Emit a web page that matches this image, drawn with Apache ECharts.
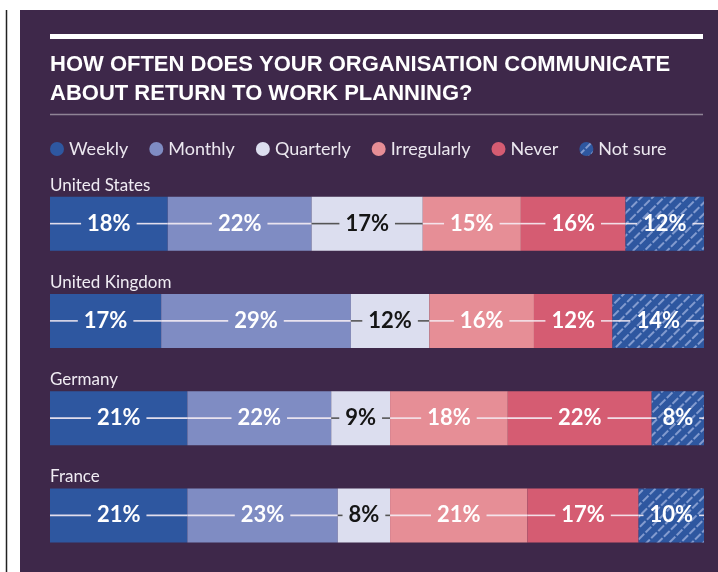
<!DOCTYPE html>
<html lang="en">
<head>
    <meta charset="UTF-8">
    <title>Return to work communication</title>
    <script type="text/javascript" src="https://cdn.jsdelivr.net/npm/echarts@6/dist/echarts.min.js"></script>
    <style>
        html, body { margin: 0; padding: 0; background: #fff; }
        #container { width: 718px; height: 572px; }
    </style>
</head>
<body>
<div id="container"></div>
<script>
    // data (percent of respondents)
    var countries = ['United States', 'United Kingdom', 'Germany', 'France'];
    var answers = ['Weekly', 'Monthly', 'Quarterly', 'Irregularly', 'Never', 'Not sure'];
    var weekly = [18, 17, 21, 21];
    var monthly = [22, 29, 22, 23];
    var quarterly = [17, 12, 9, 8];
    var irregularly = [15, 16, 18, 21];
    var never = [16, 12, 22, 17];
    var notSure = [12, 14, 8, 10];

    var values = [weekly, monthly, quarterly, irregularly, never, notSure];
    var colors = ['#2e57a0', '#7f8cc3', '#dcdeef', '#e68e96', '#d55c72', '#2e57a0'];
    var labelFont = 'bold 22px Lato';

    // measure label text so the middle line can stop short of it
    var measureCtx = document.createElement('canvas').getContext('2d');
    measureCtx.font = labelFont;
    function textWidth(str) {
        return measureCtx.measureText(str).width;
    }

    // segments for the line through the middle of each bar
    var segData = [];
    for (var i = 0; i < countries.length; i++) {
        var acc = 0;
        for (var j = 0; j < answers.length; j++) {
            segData.push([i, acc, acc + values[j][i], j, values[j][i]]);
            acc += values[j][i];
        }
    }

    var series = answers.map(function (name, j) {
        var s = {
            name: name,
            type: 'bar',
            stack: 'total',
            barWidth: 54,
            data: values[j],
            itemStyle: { color: colors[j] },
            label: {
                show: true,
                position: 'inside',
                formatter: '{c}%',
                color: j === 2 ? '#151515' : '#ffffff',
                fontSize: 22,
                fontWeight: 'bold',
                fontFamily: 'Lato'
            },
            emphasis: { disabled: true }
        };
        if (j === 5) {
            s.itemStyle.decal = {
                symbol: 'rect',
                symbolSize: 1,
                color: 'rgba(200,212,245,0.55)',
                dashArrayX: [[8, 2]],
                dashArrayY: [1.2, 6],
                rotation: -Math.PI / 4
            };
        }
        return s;
    });

    series.push({
        type: 'custom',
        z: 3,
        silent: true,
        renderItem: function (params, api) {
            var cat = api.value(0);
            var p0 = api.coord([api.value(1), cat]);
            var p1 = api.coord([api.value(2), cat]);
            var j = api.value(3);
            var w = textWidth(api.value(4) + '%');
            var cx = (p0[0] + p1[0]) / 2;
            var y = p0[1];
            var stroke = j === 2 ? '#555555' : 'rgba(245,236,244,0.9)';
            var children = [];
            var a = cx - w / 2 - 6, b = cx + w / 2 + 6;
            if (a > p0[0]) {
                children.push({ type: 'line', shape: { x1: p0[0], y1: y, x2: a, y2: y }, style: { stroke: stroke, lineWidth: 1.6 } });
            }
            if (p1[0] > b) {
                children.push({ type: 'line', shape: { x1: b, y1: y, x2: p1[0], y2: y }, style: { stroke: stroke, lineWidth: 1.6 } });
            }
            // country name sits above the first segment of each bar
            if (j === 0) {
                children.push({
                    type: 'text',
                    style: {
                        x: p0[0], y: y - 38.5,
                        text: countries[cat],
                        fill: '#f0ecf3',
                        font: '17px Lato',
                        textAlign: 'left',
                        textVerticalAlign: 'middle'
                    }
                });
            }
            return { type: 'group', children: children };
        },
        data: segData
    });

    var myChart = echarts.init(document.getElementById('container'));
    var option = {
        backgroundColor: '#ffffff',
        animation: false,
        graphic: [
            { type: 'rect', z: -10, shape: { x: 20, y: 10, width: 698, height: 562 }, style: { fill: '#3e284a' } },
            { type: 'line', z: -10, shape: { x1: 6.5, y1: 10, x2: 6.5, y2: 572 }, style: { stroke: '#222', lineWidth: 1.5 } },
            { type: 'rect', z: -5, shape: { x: 50, y: 34, width: 653, height: 5 }, style: { fill: '#ffffff' } },
            { type: 'line', z: -5, shape: { x1: 50, y1: 114.5, x2: 703, y2: 114.5 }, style: { stroke: '#8f8396', lineWidth: 1.5 } }
        ],
        title: {
            text: 'HOW OFTEN DOES YOUR ORGANISATION COMMUNICATE\nABOUT RETURN TO WORK PLANNING?',
            left: 50,
            top: 50,
            padding: 0,
            textStyle: {
                color: '#ffffff',
                fontSize: 22,
                fontWeight: 'bold',
                fontFamily: 'Liberation Sans',
                lineHeight: 29
            }
        },
        legend: {
            data: answers,
            left: 50,
            top: 140,
            padding: 0,
            icon: 'circle',
            itemWidth: 14,
            itemHeight: 14,
            itemGap: 21,
            selectedMode: false,
            textStyle: { color: '#ebe7ef', fontSize: 18, fontFamily: 'Lato' }
        },
        grid: { left: 50, right: 14, top: 175, bottom: 8 },
        xAxis: { type: 'value', min: 0, max: 100, show: false },
        yAxis: {
            type: 'category',
            data: countries,
            inverse: true,
            show: false
        },
        series: series
    };
    myChart.setOption(option, true);
</script>
</body>
</html>
